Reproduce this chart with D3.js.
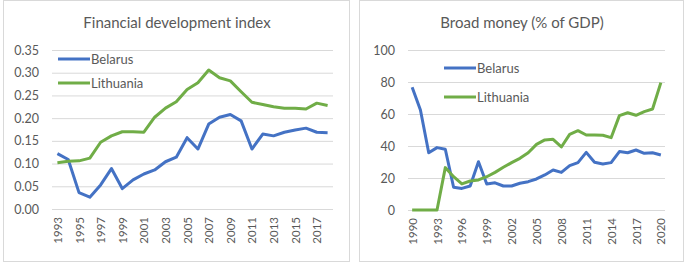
<!DOCTYPE html>
<html lang="en">
<head>
    <meta charset="UTF-8">
    <title>Belarus vs Lithuania</title>
    <script src="https://d3js.org/d3.v7.js"></script>
    <style>
        body { margin: 0; background: #fff; }
        text { font-family: Lato, "Open Sans", sans-serif; fill: #595959; }
    </style>
</head>
<body>
<svg></svg>
<script>
    // ---- data ----
    let fdYears = d3.range(1993, 2019);
    let fdBelarus = [0.122, 0.109, 0.036, 0.026, 0.053, 0.089, 0.045, 0.064, 0.077, 0.086,
        0.104, 0.114, 0.157, 0.132, 0.187, 0.202, 0.208, 0.194, 0.132, 0.165,
        0.161, 0.169, 0.174, 0.178, 0.169, 0.168];
    let fdLithuania = [0.102, 0.105, 0.106, 0.112, 0.147, 0.161, 0.170, 0.170, 0.169, 0.202,
        0.222, 0.236, 0.263, 0.278, 0.306, 0.289, 0.282, 0.258, 0.235, 0.230,
        0.225, 0.222, 0.222, 0.220, 0.233, 0.228];
    let fdTicks = [0, 0.05, 0.10, 0.15, 0.20, 0.25, 0.30, 0.35];

    let bmYears = d3.range(1990, 2021);
    let bmBelarus = [76.7, 62.5, 35.8, 39.0, 38.0, 14.2, 13.5, 15.0, 30.2, 16.3,
        17.0, 15.0, 15.0, 16.7, 17.7, 19.4, 21.9, 25.0, 23.5, 27.7,
        29.6, 36.0, 29.8, 28.8, 29.6, 36.5, 35.8, 37.5, 35.4, 35.8, 34.4];
    let bmLithuania = [0, 0, 0, 0, 26.5, 20.8, 16.3, 18.1, 18.8, 20.8,
        23.5, 26.7, 29.6, 32.3, 35.8, 41.0, 43.8, 44.2, 39.4, 47.3,
        49.6, 46.9, 46.9, 46.7, 45.2, 59.0, 60.8, 59.2, 61.5, 63.1, 79.6];
    let bmTicks = [0, 20, 40, 60, 80, 100];

    let seriesNames = ["Belarus", "Lithuania"];
    let colors = ["#4472C4", "#70AD47"];

    // ---- drawing ----
    let svg = d3.select("svg").attr("width", 690).attr("height", 264);

    function drawPanel(opt) {
        let g = svg.append("g");

        // panel frame
        g.append("rect")
            .attr("x", opt.frame[0] + 0.5).attr("y", 0.5)
            .attr("width", opt.frame[1] - opt.frame[0]).attr("height", 261)
            .attr("fill", "#fff").attr("stroke", "#d9d9d9");

        g.append("text")
            .attr("x", opt.titleX).attr("y", 28)
            .attr("text-anchor", "middle")
            .style("font-size", "15px")
            .text(opt.title);

        let x = d3.scalePoint()
            .domain(opt.years)
            .range(opt.xRange)
            .padding(0.5);
        let y = d3.scaleLinear()
            .domain(opt.yDomain)
            .range(opt.yRange);

        // gridlines + y labels
        let yAxis = d3.axisLeft(y)
            .tickValues(opt.yTicks)
            .tickSize(-(opt.xRange[1] - opt.xRange[0]))
            .tickPadding(opt.yPad)
            .tickFormat(opt.yFormat);
        let ya = g.append("g")
            .attr("transform", `translate(${opt.xRange[0]},0)`)
            .call(yAxis);
        ya.select(".domain").remove();
        ya.selectAll("line").attr("stroke", "#d9d9d9");
        ya.selectAll("text")
            .style("font-size", "12.5px")
            .attr("fill", "#595959")
            .attr("font-family", null);

        // x labels
        let xAxis = d3.axisBottom(x)
            .tickValues(opt.years.filter((d, i) => i % opt.every === 0))
            .tickSize(0)
            .tickPadding(0);
        let xa = g.append("g")
            .attr("transform", `translate(0,${opt.yRange[0]})`)
            .call(xAxis);
        xa.select(".domain").remove();
        xa.selectAll("text")
            .attr("transform", "rotate(-90)")
            .attr("x", -8).attr("y", 0).attr("dy", "0.35em")
            .attr("text-anchor", "end")
            .attr("fill", "#595959")
            .attr("font-family", null)
            .style("font-size", "11.5px");

        let line = d3.line()
            .x((d, i) => x(opt.years[i]))
            .y(d => y(d));

        g.selectAll("path.series")
            .data(opt.series)
            .join("path")
            .attr("class", "series")
            .attr("d", d => line(d))
            .attr("fill", "none")
            .attr("stroke", (d, i) => colors[i])
            .attr("stroke-width", 3)
            .attr("stroke-linejoin", "round");

        // legend
        let lg = g.selectAll("g.legend")
            .data(seriesNames)
            .join("g")
            .attr("class", "legend")
            .attr("transform", (d, i) => `translate(${opt.legend[0]},${opt.legend[1] + i * opt.legendGap})`);
        lg.append("line")
            .attr("x1", 0).attr("x2", 32)
            .attr("stroke", (d, i) => colors[i])
            .attr("stroke-width", 3);
        lg.append("text")
            .attr("x", 33).attr("dy", "0.35em")
            .style("font-size", "13px")
            .text(d => d);
    }

    drawPanel({
        frame: [3, 349],
        title: "Financial development index",
        titleX: 177,
        years: fdYears,
        series: [fdBelarus, fdLithuania],
        xRange: [52, 333],
        yDomain: [0, 0.35],
        yRange: [209, 50],
        yTicks: fdTicks,
        yPad: 13,
        yFormat: d3.format(".2f"),
        every: 2,
        legend: [58, 59],
        legendGap: 24
    });

    drawPanel({
        frame: [359, 683],
        title: "Broad money (% of GDP)",
        titleX: 522,
        years: bmYears,
        series: [bmBelarus, bmLithuania],
        xRange: [408, 665],
        yDomain: [0, 100],
        yRange: [210, 50],
        yTicks: bmTicks,
        yPad: 13,
        yFormat: d3.format("d"),
        every: 3,
        legend: [444, 68],
        legendGap: 29
    });
</script>
</body>
</html>
